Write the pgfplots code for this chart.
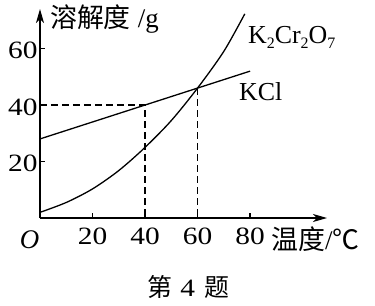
\documentclass[border=0pt]{standalone}
\usepackage{fontspec}
\setmainfont{Liberation Serif}
\newfontfamily\numfont{Liberation Serif}[FakeStretch=1.18]
\newfontfamily\cjk{Noto Sans CJK SC}
\usepackage{pgfplots}
\pgfplotsset{compat=1.18}
\usetikzlibrary{arrows.meta}
\newcommand{\sub}[1]{\raisebox{-5bp}{\fontsize{16}{16}\selectfont #1}}
\begin{document}
\begin{tikzpicture}[x=1bp,y=1bp]
\useasboundingbox (-40,-88) rectangle (335,218);
\begin{axis}[
 at={(0,0)}, anchor=south west,
 scale only axis, width=287bp, height=209bp,
 xmin=0, xmax=109.3, ymin=0, ymax=74,
 axis lines=left,
 axis line style={line width=1.2bp},
 x axis line style={-{Stealth[length=14bp,width=8bp,inset=4bp]}},
 y axis line style={-{Stealth[length=14bp,width=8bp,inset=4bp]}},
 xtick={20,40,60,80}, ytick={20,40,60},
 xticklabels={20,40,60,80}, yticklabels={20,40,60},
 tick align=inside, major tick length=5bp,
 tick style={line width=1.2bp, black},
 tick label style={font=\numfont\fontsize{25}{25}\selectfont},
 xticklabel style={yshift=-6bp},
 yticklabel style={xshift=1bp, yshift=-2bp},
 clip=false,
]
% KCl
\addplot[black, line width=1.3bp] coordinates {(0,28) (40,40) (60,46) (80,52)};
% K2Cr2O7
\addplot[black, line width=1.3bp, smooth] coordinates {(0,2) (10,5.5) (20,10.3) (30,16.8) (40,25) (50,34.5) (60,46) (70,59) (78,72.3)};
% dashed guides
\addplot[black, line width=1.3bp, dash pattern=on 7bp off 4bp] coordinates {(0,40) (40,40) (40,0)};
\addplot[black, line width=1.3bp, dash pattern=on 7bp off 4bp] coordinates {(60,46) (60,0)};
\node[anchor=base west, inner sep=0pt, font=\fontsize{26}{26}\selectfont] at (axis cs:79.2,61.9) {K\sub{2}Cr\sub{2}O\sub{7}};
\node[anchor=base west, inner sep=0pt, font=\fontsize{26}{26}\selectfont] at (axis cs:75.8,41.6) {KCl};
\node[anchor=base west, inner sep=0pt, font=\fontsize{27}{27}\selectfont] at (axis cs:3.8,67.3) {{\cjk 溶解度}\hspace{7bp}/g};
\node[anchor=center, inner sep=0pt, font=\fontsize{27}{27}\selectfont\itshape] at (axis cs:-4,-7.6) {O};
\node[anchor=west, inner sep=0pt, font=\fontsize{27}{27}\selectfont] at (axis cs:88,-7.6) {{\cjk 温度}/{\cjk ℃}};
\node[anchor=center, inner sep=0pt, font=\fontsize{25}{25}\selectfont] at (axis cs:56.6,-24.4) {{\cjk 第}\hspace{8bp}{\numfont 4}\hspace{10bp}{\cjk 题}};
\end{axis}
\end{tikzpicture}
\end{document}
